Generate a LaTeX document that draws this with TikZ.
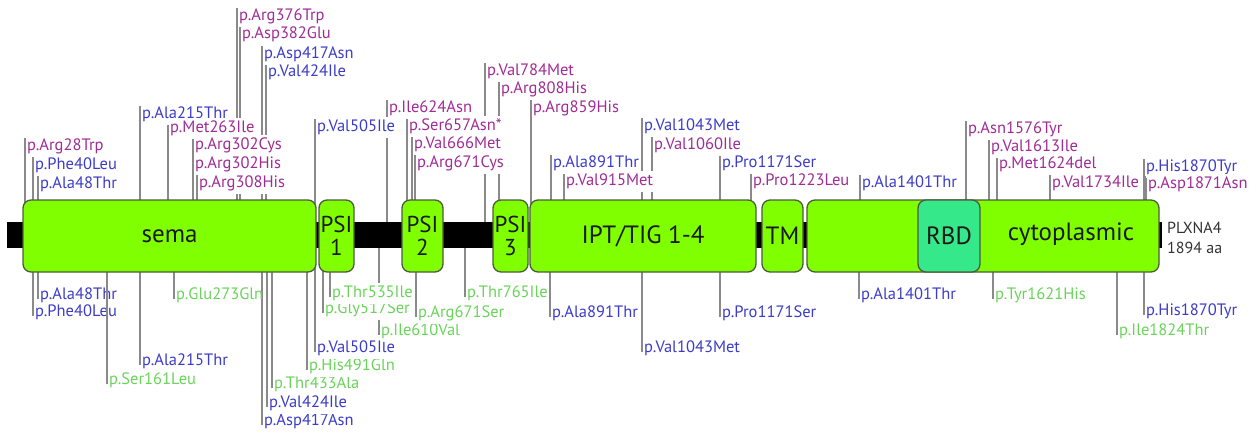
\documentclass[tikz,border=0pt]{standalone}
\usepackage{fontspec}
\setmainfont{PT Sans}
\definecolor{mag}{HTML}{A02C96}
\definecolor{blu}{HTML}{3C3CC8}
\definecolor{grn}{HTML}{6AD45A}
\definecolor{linegrey}{HTML}{8A8A8A}
\definecolor{domgreen}{HTML}{80FF00}
\definecolor{rbdgreen}{HTML}{35E88A}
\definecolor{domborder}{HTML}{4D5A40}
\definecolor{darktext}{HTML}{1A1A1A}
\definecolor{infotext}{HTML}{333333}
\tikzset{
  dom/.style={draw=domborder, line width=1.3pt, rounded corners=8pt, fill=domgreen,
    inner sep=0pt, minimum height=72pt, text=darktext, align=center,
    font=\fontsize{25}{23}\selectfont},
  psi/.style={dom, font=\fontsize{23}{23}\selectfont},
  mline/.style={draw=linegrey, line width=1.3pt},
  lab/.style={anchor=base west, font=\fontsize{16.5}{16.5}\selectfont, inner xsep=0.5pt, inner ysep=3pt, fill=white},
  labn/.style={anchor=base west, font=\fontsize{16.5}{16.5}\selectfont, inner xsep=0.5pt, inner ysep=3pt},
  info/.style={anchor=west, font=\fontsize{16}{16}\selectfont, text=infotext, inner sep=0pt}
}
\def\toplist{25/145/205/mag/p.Arg28Trp,
33/164/205/blu/p.Phe40Leu,
38/183/205/blu/p.Ala48Thr,
140/113/205/blu/p.Ala215Thr,
168/127/205/mag/p.Met263Ile,
193/144/205/mag/p.Arg302Cys,
193/163/205/mag/p.Arg302His,
197/182/205/mag/p.Arg308His,
237/15/205/mag/p.Arg376Trp,
240/33/205/mag/p.Asp382Glu,
262/53/205/blu/p.Asp417Asn,
266/71/205/blu/p.Val424Ile,
315/126/205/blu/p.Val505Ile,
387/107/225/mag/p.Ile624Asn,
407/125/205/mag/p.Ser657Asn*,
412/143/205/mag/p.Val666Met,
415/162/205/mag/p.Arg671Cys,
485/70/225/mag/p.Val784Met,
499/88/205/mag/p.Arg808His,
531/107/205/mag/p.Arg859His,
551/162/205/blu/p.Ala891Thr,
564/180/205/mag/p.Val915Met,
642/125/205/blu/p.Val1043Met,
652/144/205/mag/p.Val1060Ile,
720/162/205/blu/p.Pro1171Ser,
751/180/205/mag/p.Pro1223Leu,
860/182/205/blu/p.Ala1401Thr,
966/128/205/mag/p.Asn1576Tyr,
989/146/205/mag/p.Val1613Ile,
997/163/205/mag/p.Met1624del,
1050/182/205/mag/p.Val1734Ile,
1144/166/205/blu/p.His1870Tyr,
1146/183/205/mag/p.Asp1871Asn}
\def\botlist{38/294/267/blu/p.Ala48Thr/labn,
33/311/267/blu/p.Phe40Leu/labn,
107/379/267/grn/p.Ser161Leu/lab,
140/360/267/blu/p.Ala215Thr/lab,
174/294/267/grn/p.Glu273Gln/labn,
262/420/267/blu/p.Asp417Asn/lab,
267/402/267/blu/p.Val424Ile/lab,
272/383/267/grn/p.Thr433Ala/lab,
307/365/267/grn/p.His491Gln/lab,
315/347/267/blu/p.Val505Ile/lab,
323/308/267/grn/p.Gly517Ser/lab,
330/292/267/grn/p.Thr535Ile/lab,
379/330/245/grn/p.Ile610Val/lab,
416/312/267/grn/p.Arg671Ser/lab,
465/292/245/grn/p.Thr765Ile/lab,
550/312/267/blu/p.Ala891Thr/lab,
642/347/267/blu/p.Val1043Met/lab,
720/312/267/blu/p.Pro1171Ser/lab,
859/294/267/blu/p.Ala1401Thr/lab,
993/294/267/grn/p.Tyr1621His/lab,
1117/330/267/grn/p.Ile1824Thr/lab,
1144/310/267/blu/p.His1870Tyr/lab}
\begin{document}
\begin{tikzpicture}[x=1pt,y=-1pt]
\useasboundingbox (0,0) rectangle (1256,433);
% connector lines (top)
\foreach \x/\y/\b/\c/\t [count=\i] in \toplist {
  \coordinate (ta\i) at (\x,\b);
  \coordinate (tz\i) at (\x,\y-7);
  \draw[mline] (ta\i) -- (tz\i);
}
% connector lines (bottom)
\foreach \x/\y/\b/\c/\t/\s [count=\i] in \botlist {
  \coordinate (ba\i) at (\x,\b);
  \coordinate (bz\i) at (\x,\y+5);
  \draw[mline] (ba\i) -- (bz\i);
}
% backbone
\node[fill=black, inner sep=0pt, minimum width=1155pt, minimum height=26pt, anchor=west] (bb) at (7,235) {};
% domains
\node[dom, minimum width=293pt] (sema) at (169.5,236) {sema};
\node[psi, minimum width=35pt] (psi1) at (336.5,236) {PSI\\1};
\node[psi, minimum width=41pt] (psi2) at (422.5,236) {PSI\\2};
\node[psi, minimum width=35pt] (psi3) at (510.5,236) {PSI\\3};
\node[dom, minimum width=226pt] (ipt) at (643,236) {IPT/TIG 1-4};
\node[dom, minimum width=41pt] (tm) at (782.5,236) {TM};
\node[dom, minimum width=352pt] (cyto) at (983,236) {};
\node[dom, minimum width=62pt, fill=rbdgreen] (rbd) at (949,236) {RBD};
\node[font=\fontsize{25}{23}\selectfont, text=darktext, inner sep=0pt] (cytolab) at (1071,234) {cytoplasmic};
\node[info] (gene) at (1167,228) {PLXNA4};
\node[info] (len) at (1167,248) {1894 aa};
% labels
\foreach \x/\y/\b/\c/\t [count=\i] in \toplist {
  \node[lab, text=\c] (tl\i) at (\x+1.5,\y+5.8) {\t};
}
\foreach \x/\y/\b/\c/\t/\s [count=\i] in \botlist {
  \node[\s, text=\c] (bl\i) at (\x+1.5,\y+5.8) {\t};
}
% Ser161Leu connector runs over the Ala48Thr / Phe40Leu labels
\coordinate (s161) at (sema.south -| bz3);
\draw[mline] ([yshift=-1pt]s161) -- (bz3);
\end{tikzpicture}
\end{document}
